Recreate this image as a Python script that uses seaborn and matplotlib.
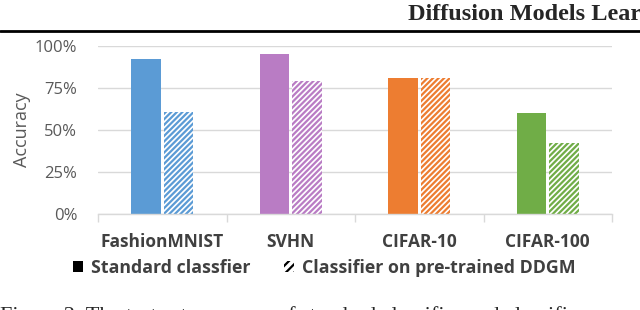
import pandas as pd
import matplotlib.pyplot as plt
import seaborn as sns
from matplotlib.patches import Patch
from matplotlib.lines import Line2D

# Dữ liệu
datasets = ["FashionMNIST", "SVHN", "CIFAR-10", "CIFAR-100"]
standard_acc = [0.92, 0.95, 0.81, 0.60]
ddgm_acc = [0.61, 0.79, 0.81, 0.42]
models = ["Standard classfier", "Classifier on pre-trained DDGM"]
colors = ["#5B9BD5", "#B97CC4", "#ED7D31", "#70AD47"]
y_ticks = [0, 0.25, 0.5, 0.75, 1.0]
y_labels = ["0%", "25%", "50%", "75%", "100%"]

df = pd.DataFrame({
    "dataset": datasets * 2,
    "model": [models[0]] * len(datasets) + [models[1]] * len(datasets),
    "acc": standard_acc + ddgm_acc,
})

sns.set_theme(style="white")
plt.rcParams["font.family"] = ["Open Sans", "DejaVu Sans"]
plt.rcParams["hatch.linewidth"] = 1.6

fig = plt.figure(figsize=(6.4, 3.1), dpi=100)
ax = fig.add_axes([98 / 640, 1 - 214 / 310, (612 - 98) / 640, (214 - 46) / 310])

sns.barplot(data=df, x="dataset", y="acc", hue="model", ax=ax,
            width=0.51, gap=0.1, errorbar=None, legend=False)

# Tô màu theo từng bộ dữ liệu
for bar, c in zip(ax.containers[0], colors):
    bar.set_facecolor(c)
    bar.set_edgecolor(c)
    bar.set_linewidth(0)
for bar, c in zip(ax.containers[1], colors):
    bar.set_facecolor("white")
    bar.set_edgecolor(c)
    bar.set_hatch("//////")
    bar.set_linewidth(0)

ax.set_ylim(0, 1)
ax.set_xlim(-0.5, len(datasets) - 0.5)
ax.set_yticks(y_ticks, y_labels)
ax.yaxis.grid(True, color="#D9D9D9", linewidth=1)
ax.xaxis.grid(False)
ax.set_axisbelow(True)
ax.set_xlabel("")
ax.set_ylabel("")

ax.tick_params(axis="y", length=0, pad=15, labelsize=12, labelcolor="#595959")
ax.tick_params(axis="x", which="major", length=0, pad=14, labelsize=12.5, labelcolor="#404040")
for lab in ax.get_xticklabels():
    lab.set_fontweight("bold")
ax.set_xticks([i - 0.5 for i in range(len(datasets) + 1)], minor=True)
ax.tick_params(axis="x", which="minor", length=6, width=1, color="#D9D9D9", direction="out", bottom=True)

sns.despine(ax=ax, left=True)
ax.spines["bottom"].set_color("#D9D9D9")
ax.spines["bottom"].set_linewidth(1)

fig.text(22 / 640, 1 - 130 / 310, "Accuracy", rotation=90, ha="center", va="center",
         fontsize=13, color="#595959")

handles = [Patch(facecolor="black", edgecolor="black", linewidth=0),
           Patch(facecolor="white", edgecolor="black", hatch="////", linewidth=0)]
fig.legend(handles, models, loc="center", bbox_to_anchor=(324 / 640, 1 - 268 / 310), ncol=2,
           frameon=False, prop={"weight": "bold", "size": 12.8}, labelcolor="#404040",
           handlelength=0.6, handleheight=0.6, handletextpad=0.4, columnspacing=1.9)

# Tiêu đề trang và chú thích hình (bị cắt như ảnh gốc)
fig.text(408 / 640, 1 - 14 / 310, "Diffusion Models Learn Low-Dimensional Distributions",
         family="Liberation Serif", fontweight="bold", fontsize=17.5, ha="left", va="center")
fig.add_artist(Line2D([0, 1], [1 - 31 / 310] * 2, transform=fig.transFigure, color="black", linewidth=2))
fig.text(0, 1 - 306 / 310, "Figure 2. The test set accuracy of standard classifier and classifier on pre-trained DDGM",
         family="Liberation Serif", fontsize=16, ha="left", va="top")

fig.savefig("out.png", dpi=100)
